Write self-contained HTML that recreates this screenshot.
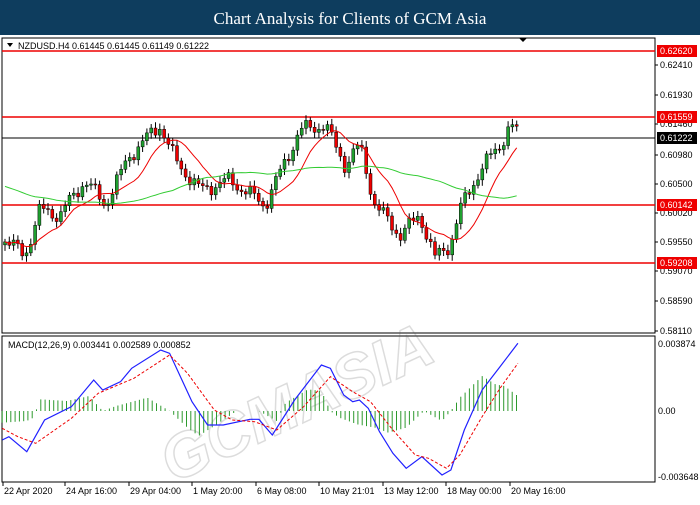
<!DOCTYPE html>
<html><head><meta charset="utf-8"><style>
body{margin:0;width:700px;height:500px;background:#fff;overflow:hidden;font-family:"Liberation Sans",sans-serif}
</style></head><body>
<svg id="s" width="700" height="500" xmlns="http://www.w3.org/2000/svg" font-family="Liberation Sans, sans-serif">
<rect x="0" y="0" width="700" height="35" fill="#0e3d5e"/>
<text x="350" y="24" fill="#fff" font-size="17" font-family="Liberation Serif, serif" text-anchor="middle">Chart Analysis for Clients of GCM Asia</text>
<rect x="2" y="38" width="653" height="295" fill="#fff" stroke="#000" stroke-width="1"/>
<rect x="2" y="336" width="653" height="146" fill="#fff" stroke="#000" stroke-width="1"/>
<g opacity="0.2" fill="none" stroke="#555" stroke-width="1.5" font-weight="bold" font-style="italic" font-size="62">
<text x="110" y="400" transform="rotate(-25 330 300)">GCMASIA</text>
</g>
<text x="18" y="49" font-size="9">NZDUSD.H4  0.61445 0.61445 0.61149 0.61222</text>
<path d="M7 43 L13 43 L10 47Z" fill="#000"/>
<path d="M519 38 L527 38 L523 42Z" fill="#000"/>
<g stroke="#e00" stroke-width="1.5">
<line x1="2" y1="51" x2="655" y2="51"/><line x1="2" y1="117" x2="655" y2="117"/>
<line x1="2" y1="205" x2="655" y2="205"/><line x1="2" y1="263" x2="655" y2="263"/>
</g>
<line x1="2" y1="138" x2="655" y2="138" stroke="#000" stroke-width="1"/>
<g id="cand"></g>
<g id="ax" font-size="9"></g>
<text x="8" y="348" font-size="9">MACD(12,26,9) 0.003441 0.002589 0.000852</text>
<g id="hist" stroke="#2e9a2e" stroke-width="1"></g>
<polyline id="blue" fill="none" stroke="#2020ff" stroke-width="1.2"/>
<polyline id="red" fill="none" stroke="#e00" stroke-width="1" stroke-dasharray="3,2"/>
</svg>
<script>
var NS="http://www.w3.org/2000/svg";
function el(p,t,a,txt){var e=document.createElementNS(NS,t);for(var k in a)e.setAttribute(k,a[k]);if(txt)e.textContent=txt;document.getElementById(p).appendChild(e);return e;}
var ax=[["0.62410",65],["0.61930",95],["0.61460",124],["0.60980",155],["0.60500",184],["0.60020",213],["0.59550",242],["0.59070",271],["0.58590",301],["0.58110",331]];
ax.forEach(function(a){el("ax","line",{x1:655,x2:658,y1:a[1],y2:a[1],stroke:"#000"});el("ax","text",{x:660,y:a[1]+3},a[0]);});
[["0.62620",51,"#e00"],["0.61559",117,"#e00"],["0.61222",138,"#000"],["0.60142",205,"#e00"],["0.59208",263,"#e00"]].forEach(function(a){
el("ax","rect",{x:657,y:a[1]-6,width:40,height:12,fill:a[2]});el("ax","text",{x:660,y:a[1]+3,fill:"#fff"},a[0]);});
[["0.003874",344],["0.00",411],["-0.003648",477]].forEach(function(a){el("ax","text",{x:658,y:a[1]+3},a[0]);});
var tl=[[3,"22 Apr 2020"],[65,"24 Apr 16:00"],[129,"29 Apr 04:00"],[192,"1 May 20:00"],[256,"6 May 08:00"],[319,"10 May 21:01"],[383,"13 May 12:00"],[446,"18 May 00:00"],[510,"20 May 16:00"]];
tl.forEach(function(a){el("ax","line",{x1:a[0],x2:a[0],y1:482,y2:486,stroke:"#000"});el("ax","text",{x:a[0]+1,y:494},a[1]);});
function interp(pts,x){for(var i=0;i<pts.length-1;i++){if(x<=pts[i+1][0]){var t=(x-pts[i][0])/(pts[i+1][0]-pts[i][0]);return pts[i][1]+t*(pts[i+1][1]-pts[i][1]);}}return pts[pts.length-1][1];}
var kp=[[5,240],[25,255],[40,210],[60,215],[85,180],[105,205],[130,155],[160,125],[175,160],[200,190],[230,180],[265,205],[300,130],[325,125],[345,165],[360,145],[375,205],[400,235],[420,215],[435,258],[450,245],[460,210],[480,170],[500,145],[510,125],[520,135]];
var closes=[],xs=[];
for(var x=5;x<=518;x+=4.3){xs.push(x);closes.push(interp(kp,x)+6*Math.sin(x*1.7)+3*Math.sin(x*0.9));}
var prev=closes[0]+3;
for(var i=0;i<xs.length;i++){var o=prev,c=closes[i];var hi=Math.min(o,c)-3-3*Math.abs(Math.sin(i*2.3)),lo=Math.max(o,c)+3+3*Math.abs(Math.cos(i*1.3));
el("cand","line",{x1:xs[i],x2:xs[i],y1:hi,y2:lo,stroke:"#000","stroke-width":1});
var up=c<o;el("cand","rect",{x:xs[i]-1.5,y:Math.min(o,c),width:3,height:Math.max(1,Math.abs(o-c)),fill:up?"#1fa02f":"#e00",stroke:"#000","stroke-width":0.5});prev=c;}
function ma(n,col,base){var pts=[];for(var i=0;i<xs.length;i++){var s=0,k=0;for(var j=Math.max(0,i-n+1);j<=i;j++){s+=closes[j];k++;}var v=s/k;if(base)v=(v*k+base*(n-k))/n;pts.push(xs[i]+","+v.toFixed(1));}
el("cand","polyline",{points:pts.join(" "),fill:"none",stroke:col,"stroke-width":1});}
ma(10,"#e00",0);ma(40,"#3c3",185);
function conv(a){return a.map(function(p){return (p[0]/2.24).toFixed(1)+","+(p[1]/3+330).toFixed(1);}).join(" ");}
document.getElementById("blue").setAttribute("points",conv([[5,330],[20,320],[60,365],[100,270],[160,230],[210,150],[230,180],[270,155],[295,115],[360,60],[380,70],[430,215],[465,285],[500,285],[560,268],[580,268],[610,315],[660,210],[720,105],[740,115],[770,195],[790,215],[805,210],[825,235],[850,305],[880,370],[910,415],[945,380],[990,435],[1010,420],[1040,300],[1080,180],[1120,110],[1160,40]]));
document.getElementById("red").setAttribute("points",conv([[5,295],[40,320],[80,340],[160,265],[220,190],[300,145],[380,75],[420,130],[480,240],[520,270],[570,275],[620,300],[680,230],[740,140],[790,185],[830,215],[880,300],[930,375],[960,385],[1000,415],[1030,375],[1080,260],[1120,175],[1160,100]]));
var hk=[[5,-35],[60,-30],[75,-20],[90,35],[150,30],[200,45],[230,0],[260,15],[330,40],[380,0],[420,-50],[445,-75],[480,-45],[530,0],[580,0],[620,-30],[640,25],[690,65],[720,60],[740,0],[760,-20],[800,-40],[840,-50],[870,-65],[910,-50],[950,0],[990,-30],[1010,0],[1030,40],[1080,105],[1110,80],[1130,75],[1160,45]];
for(var x=5;x<=1162;x+=9.6){var v=interp(hk,x)/3;el("hist","line",{x1:(x/2.24).toFixed(1),x2:(x/2.24).toFixed(1),y1:411,y2:(411-v).toFixed(1)});}
</script>
</body></html>
